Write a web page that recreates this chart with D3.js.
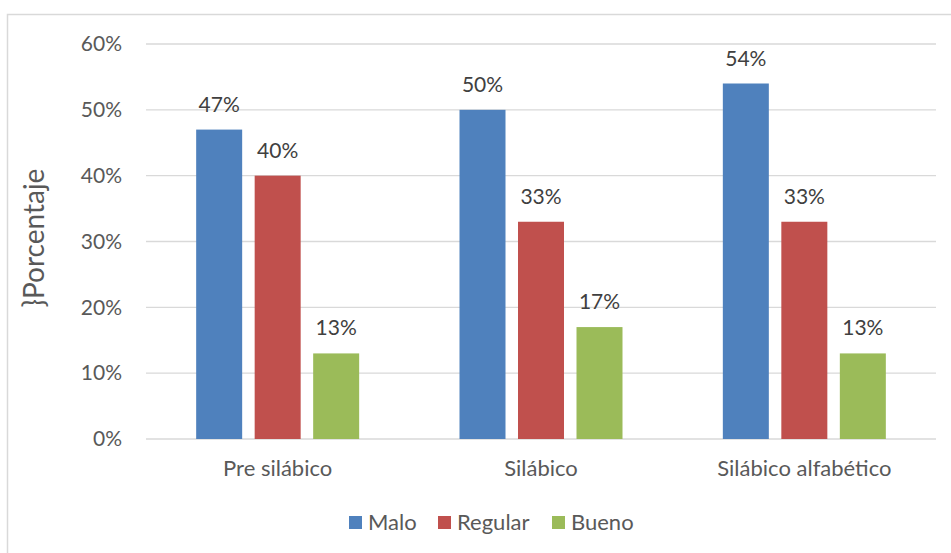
<!DOCTYPE html>
<html><head><meta charset="utf-8">
<script src="https://cdn.jsdelivr.net/npm/d3@7"></script>
<style>body{margin:0;background:#fff;} text{font-family:Lato,"Open Sans",sans-serif;}</style>
</head><body>
<svg id="c" width="951" height="553"></svg>
<script>
const categories = ["Pre silábico", "Silábico", "Silábico alfabético"];
const seriesNames = ["Malo", "Regular", "Bueno"];
const malo = [0.47, 0.50, 0.54];
const regular = [0.40, 0.33, 0.33];
const bueno = [0.13, 0.17, 0.13];
const yTicks = [0, 0.1, 0.2, 0.3, 0.4, 0.5, 0.6];
const colors = ["#4F81BD", "#C0504D", "#9BBB59"];
const values = [malo, regular, bueno];

const svg = d3.select("#c");
svg.append("rect").attr("x",7.5).attr("y",14.5).attr("width",960).attr("height",560)
  .attr("fill","#fff").attr("stroke","#d9d9d9").attr("stroke-width",1.5);

const m = {l:146, r:936, t:44, b:439};
const x0 = d3.scaleBand().domain(categories).range([m.l, m.r]).paddingInner(0).paddingOuter(0);
const y = d3.scaleLinear().domain([0, 0.6]).range([m.b, m.t]);
const bw = 46, step = 58.5;

const g = svg.append("g");
g.selectAll("line.grid").data(yTicks).enter().append("line")
  .attr("x1", m.l).attr("x2", m.r).attr("y1", d=>y(d)).attr("y2", d=>y(d))
  .attr("stroke", "#d9d9d9").attr("stroke-width", 1.3);

const yAxis = d3.axisLeft(y).tickValues(yTicks).tickFormat(d3.format(".0%")).tickSize(0).tickPadding(24);
const ya = svg.append("g").attr("transform", `translate(${m.l},0)`).call(yAxis);
ya.select(".domain").remove();
ya.selectAll("text").attr("font-size", 21).attr("fill", "#595959").style("font-family","Lato,'Open Sans',sans-serif");

const xAxis = d3.axisBottom(x0).tickSize(0).tickPadding(21);
const xa = svg.append("g").attr("transform", `translate(0,${m.b})`).call(xAxis);
xa.select(".domain").remove();
xa.selectAll("text").attr("font-size", 22).attr("fill", "#595959").style("font-family","Lato,'Open Sans',sans-serif");

const data = [];
categories.forEach((c, i) => seriesNames.forEach((s, j) => data.push({c, j, v: values[j][i]})));
const bx = d => x0(d.c) + x0.bandwidth()/2 + (d.j - 1) * step - bw/2;

svg.selectAll("rect.bar").data(data).enter().append("rect")
  .attr("x", bx).attr("width", bw)
  .attr("y", d => y(d.v)).attr("height", d => y(0) - y(d.v))
  .attr("fill", d => colors[d.j]);

svg.selectAll("text.lbl").data(data).enter().append("text")
  .attr("x", d => bx(d) + bw/2).attr("y", d => y(d.v) - 18)
  .attr("text-anchor", "middle").attr("font-size", 21).attr("fill", "#404040")
  .text(d => d3.format(".0%")(d.v));

svg.append("text").attr("transform", "translate(44,238) rotate(-90)")
  .attr("text-anchor", "middle").attr("font-size", 28).attr("fill", "#595959")
  .text("}Porcentaje");

const legX = [349, 438, 552];
const leg = svg.selectAll("g.leg").data(seriesNames).enter().append("g")
  .attr("transform", (d, i) => `translate(${legX[i]},516)`);
leg.append("rect").attr("width", 13).attr("height", 13).attr("fill", (d, i) => colors[i]);
leg.append("text").attr("x", 19).attr("y", 14).attr("font-size", 22).attr("fill", "#595959").text(d => d);
</script>
</body></html>
